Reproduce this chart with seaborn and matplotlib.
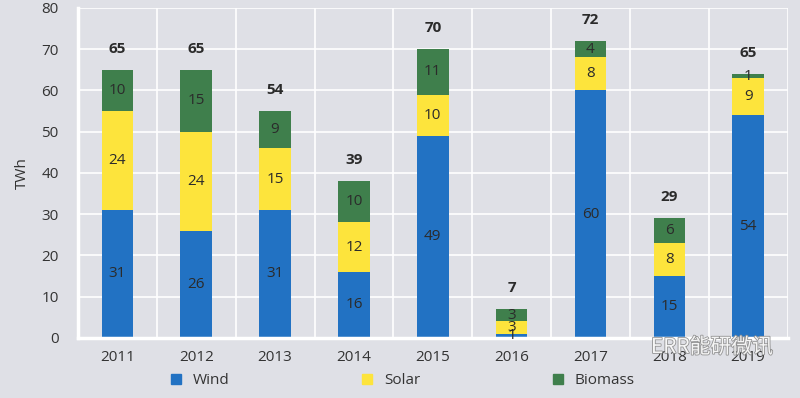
import numpy as np
import matplotlib.pyplot as plt
import matplotlib.patheffects as pe
import pandas as pd
import seaborn as sns

sns.set_style("white")
plt.rcParams["font.family"] = ['Open Sans', 'Noto Sans CJK SC', 'DejaVu Sans']

years = ['2011', '2012', '2013', '2014', '2015', '2016', '2017', '2018', '2019']
wind = [31, 26, 31, 16, 49, 1, 60, 15, 54]
solar = [24, 24, 15, 12, 10, 3, 8, 8, 9]
biomass = [10, 15, 9, 10, 11, 3, 4, 6, 1]
totals = [65, 65, 54, 39, 70, 7, 72, 29, 65]

c_wind = '#2272c3'
c_solar = '#fde43c'
c_bio = '#3f7f4c'
bg = '#dfe0e6'

df = pd.DataFrame({'Year': years, 'Wind': wind, 'Solar': solar, 'Biomass': biomass})
df['WS'] = df['Wind'] + df['Solar']
df['All'] = df['WS'] + df['Biomass']

fig = plt.figure(figsize=(8, 3.98), dpi=100, facecolor=bg)
ax = fig.add_axes([0.0975, 0.151, 0.887, 0.829])
ax.set_facecolor(bg)

# stacked by drawing cumulative sums on top of each other
for col, c in [('All', c_bio), ('WS', c_solar), ('Wind', c_wind)]:
    sns.barplot(data=df, x='Year', y=col, color=c, width=0.4, saturation=1,
                linewidth=0, edgecolor='none', ax=ax)

txt = '#2b2b2b'
for i in range(len(years)):
    ax.text(i, wind[i] / 2, str(wind[i]), ha='center', va='center', fontsize=11, color=txt)
    ax.text(i, wind[i] + solar[i] / 2, str(solar[i]), ha='center', va='center', fontsize=11, color=txt)
    ax.text(i, wind[i] + solar[i] + biomass[i] / 2, str(biomass[i]), ha='center', va='center',
            fontsize=11, color=txt)
    ax.text(i, df['All'][i] + 3.4, str(totals[i]), ha='center', va='bottom', fontsize=11,
            fontweight='bold', color=txt)

ax.set_xlim(-0.5, 8.5)
ax.set_ylim(0, 80)
ax.set_yticks(range(0, 81, 10))
ax.set_xticks(np.arange(-0.5, 8.6, 1), minor=True)
ax.grid(axis='y', color='white', linewidth=1.2)
ax.grid(axis='x', which='minor', color='white', linewidth=1.2)
ax.set_axisbelow(True)
for s in ['top', 'right']:
    ax.spines[s].set_visible(False)
for s in ['left', 'bottom']:
    ax.spines[s].set_color('white')
    ax.spines[s].set_linewidth(2.5)
ax.tick_params(axis='both', which='both', length=0, labelsize=11, colors='#333333')
ax.tick_params(axis='x', pad=9)
ax.tick_params(axis='y', pad=14)
ax.set_xlabel('')
ax.set_ylabel('TWh', fontsize=11, color='#333333', labelpad=8)

# legend
handles = [plt.Line2D([], [], marker='s', ls='', color=c, markersize=7) for c in [c_wind, c_solar, c_bio]]
fig.legend(handles, ['Wind', 'Solar', 'Biomass'], loc='center', bbox_to_anchor=(0.497, 0.043),
           ncol=3, frameon=False, fontsize=11, handletextpad=0.1, columnspacing=8.0,
           labelcolor='#333333')

# watermark
fig.text(0.89, 0.128, 'ERR能研微讯', fontsize=15, color='white', alpha=0.9, ha='center', va='center',
         family=['Noto Sans CJK SC', 'DejaVu Sans'],
         path_effects=[pe.withStroke(linewidth=1.2, foreground='#8a8a8a')])

plt.savefig('out.png', dpi=100, facecolor=bg)
